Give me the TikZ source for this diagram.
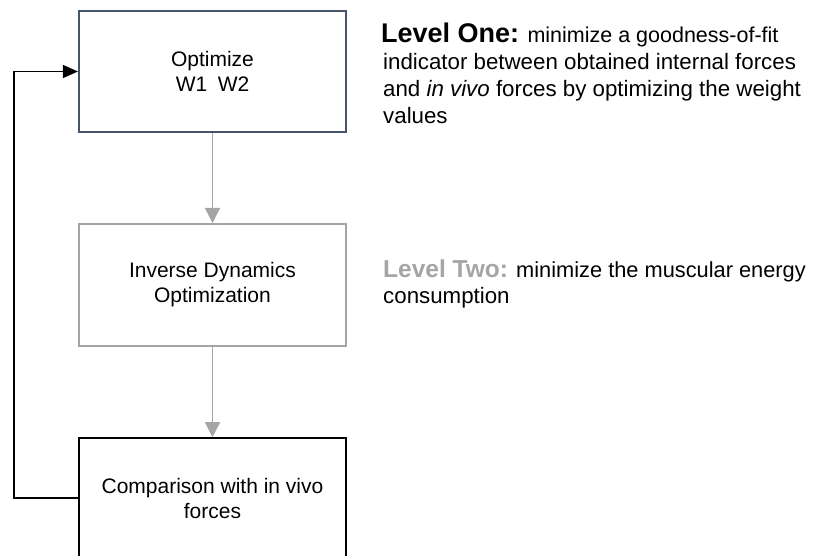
\documentclass[tikz,border=0pt]{standalone}
\usepackage{fontspec}
\setmainfont{Liberation Sans}
\usetikzlibrary{arrows.meta}
\definecolor{slate}{HTML}{44546A}
\definecolor{midgray}{HTML}{A5A5A5}
\tikzset{
  stagebox/.style={draw, rectangle, minimum width=267pt, inner sep=0pt,
    align=center, font=\fontsize{21}{25}\selectfont},
  flow/.style={draw=midgray, line width=1.5pt,
    -{Triangle[width=15pt,length=15pt]}},
  loopback/.style={draw=black, line width=1.5pt,
    -{Triangle[width=13pt,length=15pt]}},
  sidetext/.style={anchor=base west, inner sep=0pt,
    font=\fontsize{22.3}{27}\selectfont}
}
\begin{document}
\begin{tikzpicture}[x=1pt,y=-1pt]
\useasboundingbox (0,0) rectangle (815,556);

% the three stages
\node[stagebox, draw=slate, line width=2.2pt, minimum height=121pt]
  (opt) at (212.5,71.5) {Optimize\\W1\enspace W2};
\node[stagebox, draw=midgray, line width=2pt, minimum height=122pt]
  (inv) at (212.5,285) {Inverse Dynamics\\Optimization};
\node[stagebox, draw=black, line width=1.6pt, minimum height=120pt]
  (cmp) at (212.5,498) {Comparison with in vivo\\forces};

% downward flow
\draw[flow] (opt.south) -- (inv.north);
\draw[flow] (inv.south) -- (cmp.north);

% feedback loop back to the optimizer
\coordinate (lb) at (14,498);
\coordinate (lt) at (14,71.5);
\draw[loopback] (cmp.west) -- (lb) -- (lt) -- (opt.west);

% level descriptions
\node[sidetext] (l1a) at (381,43) {{\fontsize{27}{30}\selectfont\bfseries Level One:} {\fontsize{21.5}{27}\selectfont minimize a goodness-of-fit}};
\node[sidetext] (l1b) at (383,70) {indicator between obtained internal forces};
\node[sidetext] (l1c) at (383,97) {and \textit{in vivo} forces by optimizing the weight};
\node[sidetext] (l1d) at (383,124) {values};

\node[sidetext] (l2a) at (383,278) {{\fontsize{24.5}{30}\selectfont\bfseries\color{midgray}Level Two:} {\fontsize{21.8}{27}\selectfont minimize the muscular energy}};
\node[sidetext] (l2b) at (383,304) {consumption};
\end{tikzpicture}
\end{document}
